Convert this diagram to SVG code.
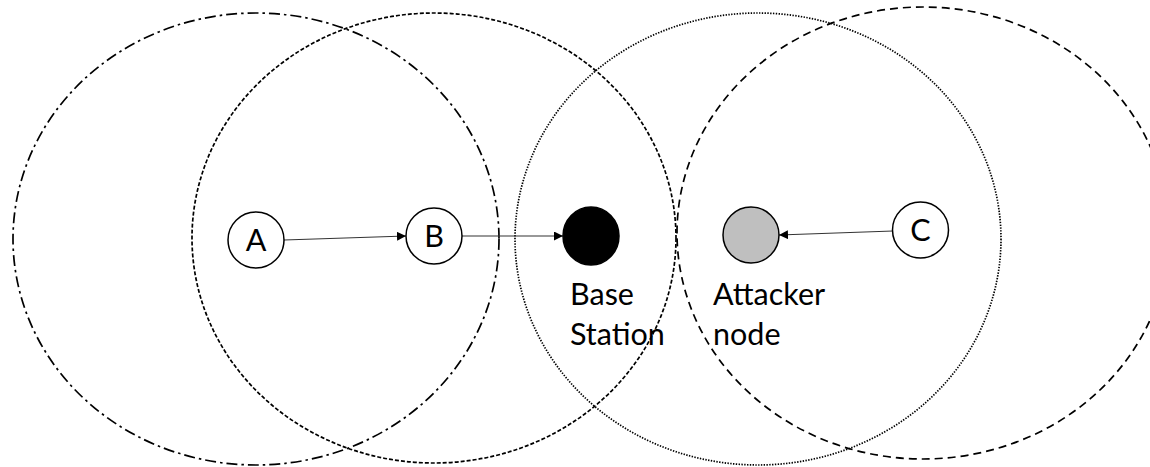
<svg xmlns="http://www.w3.org/2000/svg" width="1150" height="467" viewBox="0 0 1150 467">
<style>
.range{fill:none;stroke:#000;stroke-width:1.7}
.node{stroke:#000;stroke-width:1.5}
.lbl{font-family:Lato,"Open Sans","Liberation Sans",sans-serif;font-size:30.5px;fill:#000}
.link{stroke:#333;stroke-width:1.2;fill:none;marker-end:url(#ah)}
</style>
<defs>
<marker id="ah" viewBox="0 0 10 10" refX="10" refY="5" markerWidth="9" markerHeight="9" markerUnits="userSpaceOnUse" orient="auto">
<path d="M0,0 L10,5 L0,10 Z" fill="#000"/>
</marker>
</defs>
<rect width="1150" height="467" fill="#fff"/>
<g id="ranges">
<ellipse id="range-A" class="range" cx="256" cy="239" rx="243" ry="226" stroke-dasharray="11 4 2.5 4"/>
<ellipse id="range-B" class="range" cx="434" cy="238" rx="242" ry="225" stroke-dasharray="4 2"/>
<ellipse id="range-attacker" class="range" cx="758" cy="239" rx="243" ry="226" stroke-dasharray="1.4 1.4" stroke-width="1.5"/>
<ellipse id="range-C" class="range" cx="923" cy="233" rx="246" ry="226" stroke-dasharray="8 5"/>
</g>
<g id="connectors">
<line class="link" x1="284" y1="240" x2="406" y2="236"/>
<line class="link" x1="462" y1="236" x2="563" y2="236"/>
<line class="link" x1="893" y1="231" x2="779" y2="235"/>
</g>
<g id="node-A">
<circle class="node" cx="256" cy="240" r="28" fill="#fff"/>
<text class="lbl" x="256" y="251" text-anchor="middle">A</text>
</g>
<g id="node-B">
<circle class="node" cx="434" cy="236" r="28" fill="#fff"/>
<text class="lbl" x="434" y="247" text-anchor="middle">B</text>
</g>
<g id="node-base-station">
<ellipse class="node" cx="591" cy="236" rx="28" ry="29" fill="#000"/>
<text class="lbl" x="570" y="305">Base</text>
<text class="lbl" x="570" y="345">Station</text>
</g>
<g id="node-attacker">
<circle class="node" cx="751" cy="235" r="28" fill="#bfbfbf"/>
<text class="lbl" x="713" y="305">Attacker</text>
<text class="lbl" x="713" y="345">node</text>
</g>
<g id="node-C">
<circle class="node" cx="920.5" cy="230" r="28" fill="#fff"/>
<text class="lbl" x="920.5" y="241" text-anchor="middle">C</text>
</g>
</svg>
